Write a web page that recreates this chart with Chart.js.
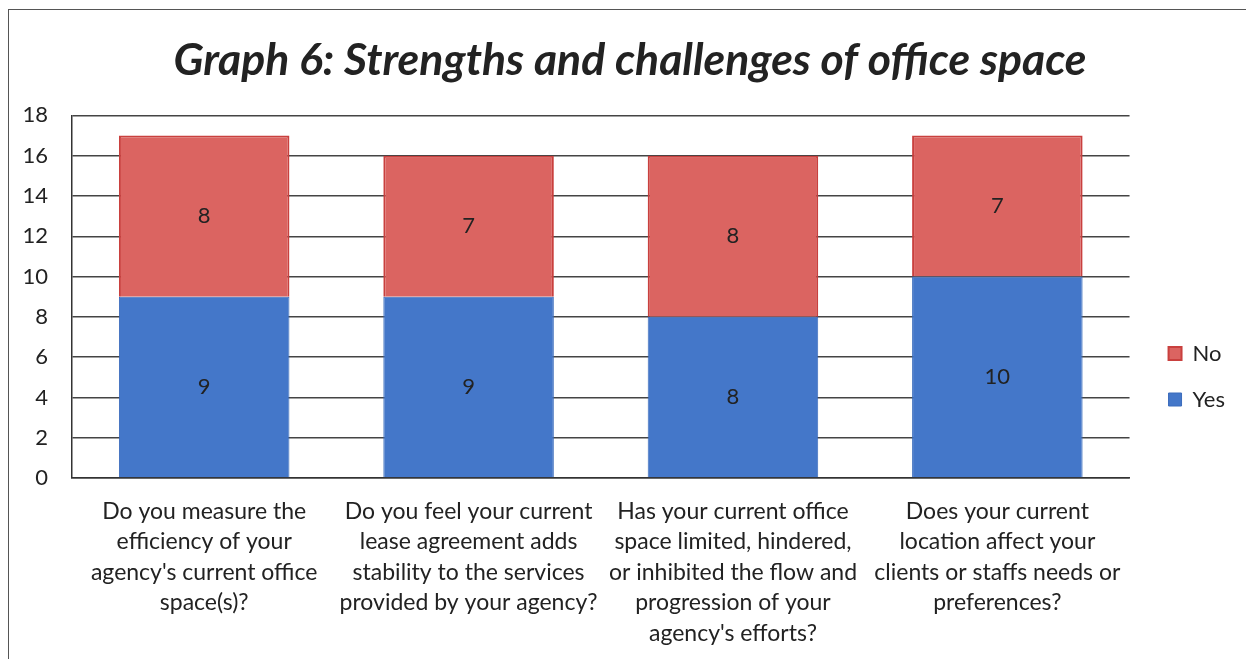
<!DOCTYPE html>
<html>
<head>
<meta charset="utf-8">
<script src="https://cdn.jsdelivr.net/npm/chart.js@4/dist/chart.umd.min.js"></script>
<style>
  html, body { margin: 0; padding: 0; background: #fff; overflow: hidden; }
  .frame { position: absolute; left: 8px; top: 9px; width: 1260px; height: 680px; border: 1.5px solid #555; }
  .wrap { position: absolute; left: 0; top: 0; width: 1246px; height: 659px; }
</style>
</head>
<body>
<div class="frame"></div>
<div class="wrap"><canvas id="chart" width="1246" height="659"></canvas></div>
<script>
// Survey questions along the x axis (one line per array entry)
const categories = [
  ['Do you measure the', 'efficiency of your', "agency's current office", 'space(s)?'],
  ['Do you feel your current', 'lease agreement adds', 'stability to the services', 'provided by your agency?'],
  ['Has your current office', 'space limited, hindered,', 'or inhibited the flow and', 'progression of your', "agency's efforts?"],
  ['Does your current', 'location affect your', 'clients or staffs needs or', 'preferences?']
];
const yesCounts = [9, 9, 8, 10];
const noCounts = [8, 7, 8, 7];
const yTicks = [0, 2, 4, 6, 8, 10, 12, 14, 16, 18];

const FONT = 'Lato, "Open Sans", sans-serif';
const LEGEND_SHIFT = { x: 15, y: 47 };
const TITLE_SHIFT = 20;

// Write each segment's value in the middle of its bar piece
const segmentLabels = {
  id: 'segmentLabels',
  afterDatasetsDraw(chart) {
    const ctx = chart.ctx;
    ctx.save();
    ctx.font = '22px ' + FONT;
    ctx.fillStyle = '#222';
    ctx.textAlign = 'center';
    ctx.textBaseline = 'middle';
    chart.data.datasets.forEach((ds, i) => {
      chart.getDatasetMeta(i).data.forEach((bar, j) => {
        ctx.fillText(String(ds.data[j]), bar.x, (bar.y + bar.base) / 2);
      });
    });
    ctx.restore();
  }
};

// Nudge the legend lower / further right, and centre the title on the page
const boxNudge = {
  id: 'boxNudge',
  afterLayout(chart) {
    const lg = chart.legend;
    if (lg) {
      lg.left += LEGEND_SHIFT.x; lg.right += LEGEND_SHIFT.x;
      lg.top += LEGEND_SHIFT.y; lg.bottom += LEGEND_SHIFT.y;
    }
    const tb = chart.titleBlock;
    if (tb) { tb.left += TITLE_SHIFT; tb.right += TITLE_SHIFT; }
  }
};

new Chart(document.getElementById('chart'), {
  type: 'bar',
  data: {
    labels: categories,
    datasets: [
      { label: 'Yes', data: yesCounts, backgroundColor: '#4477c9', borderColor: '#3b6cbc', borderWidth: 1 },
      { label: 'No', data: noCounts, backgroundColor: '#db6461', borderColor: '#c9403e', borderWidth: 2 }
    ]
  },
  options: {
    responsive: false,
    animation: false,
    layout: { padding: { left: 0, right: 26, top: 0, bottom: 0 } },
    datasets: { bar: { categoryPercentage: 1, barPercentage: 0.645 } },
    plugins: {
      title: {
        display: true,
        text: 'Graph 6: Strengths and challenges of office space',
        color: '#222',
        font: { family: FONT, size: 44.5, weight: 'bold', style: 'italic', lineHeight: 1.2 },
        padding: { top: 34, bottom: 28 }
      },
      legend: {
        position: 'right',
        reverse: true,
        labels: {
          color: '#222',
          font: { family: FONT, size: 22 },
          boxWidth: 13,
          boxHeight: 13,
          padding: 24
        }
      },
      tooltip: { enabled: false }
    },
    scales: {
      x: {
        stacked: true,
        afterFit: (axis) => { axis.height = 181; },
        grid: { display: false, drawTicks: false },
        border: { color: '#333', width: 1.5 },
        ticks: {
          color: '#222',
          font: { family: FONT, size: 23, lineHeight: 1.33 },
          maxRotation: 0,
          autoSkip: false,
          padding: 18
        }
      },
      y: {
        stacked: true,
        min: 0,
        max: 18,
        afterBuildTicks: (axis) => { axis.ticks = yTicks.map(v => ({ value: v })); },
        afterFit: (axis) => { axis.width = 72; },
        grid: { color: '#444', lineWidth: 1.5, drawTicks: false },
        border: { color: '#333', width: 1.5 },
        ticks: {
          color: '#222',
          font: { family: FONT, size: 22 },
          padding: 24
        }
      }
    }
  },
  plugins: [segmentLabels, boxNudge]
});
</script>
</body>
</html>
